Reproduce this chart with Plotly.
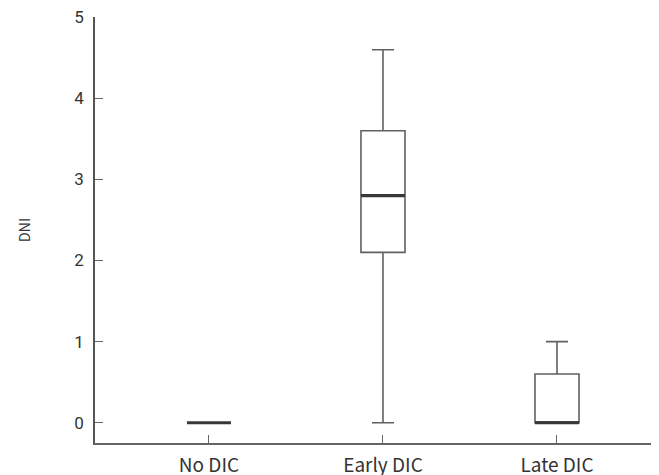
import plotly.graph_objects as go

categories = ["No DIC", "Early DIC", "Late DIC"]
q1 = [0.0, 2.1, 0.0]
median = [0.0, 2.8, 0.0]
q3 = [0.0, 3.6, 0.6]
lower = [0.0, 0.0, 0.0]
upper = [0.0, 4.6, 1.0]
y_ticks = [0, 1, 2, 3, 4, 5]

pos = list(range(len(categories)))
box_w = 0.253

fig = go.Figure()
fig.add_trace(go.Box(
    x=pos, q1=q1, median=median, q3=q3, lowerfence=lower, upperfence=upper,
    width=box_w, whiskerwidth=0.5,
    line=dict(color="#606060", width=1.6), fillcolor="rgba(255,255,255,0)",
    boxpoints=False, hoverinfo="skip", showlegend=False,
))
for i, m in zip(pos, median):
    fig.add_trace(go.Scatter(
        x=[i - box_w / 2, i + box_w / 2], y=[m, m], mode="lines",
        line=dict(color="#383838", width=3.2), showlegend=False, hoverinfo="skip",
    ))

# page has an 8px body margin, so the figure is sized/offset to compensate
x_range = [-0.655, 2.546]
fig.update_layout(
    width=651, height=467,
    margin=dict(l=87, r=7, t=9, b=32, autoexpand=False),
    plot_bgcolor="white", paper_bgcolor="white",
    font=dict(family="Noto Sans CJK KR, Roboto, sans-serif", color="#333333", size=15),
)
fig.update_xaxes(
    range=x_range, tickvals=pos + [x_range[1]], ticktext=categories + [""],
    ticks="inside", ticklen=8, tickcolor="#666666", tickwidth=1.3,
    showline=True, linecolor="#666666", linewidth=1.8, showgrid=False, zeroline=False,
    tickfont=dict(size=19, family="Noto Sans CJK KR", color="#333333"),
    automargin=False, ticklabelstandoff=4, ticklabeloverflow="allow",
)
fig.update_yaxes(
    range=[-0.25, 5.003], tickvals=y_ticks,
    ticks="inside", ticklen=8, tickcolor="#666666", tickwidth=1.3,
    showline=True, linecolor="#555555", linewidth=1.5, showgrid=False, zeroline=False,
    tickfont=dict(size=17, family="Roboto", color="#333333"),
    automargin=False, ticklabelstandoff=6, ticklabeloverflow="allow",
    title=dict(text="DNI", font=dict(size=14.5, family="Noto Sans CJK KR", color="#333333"), standoff=40),
)

fig.write_html("out.html")
